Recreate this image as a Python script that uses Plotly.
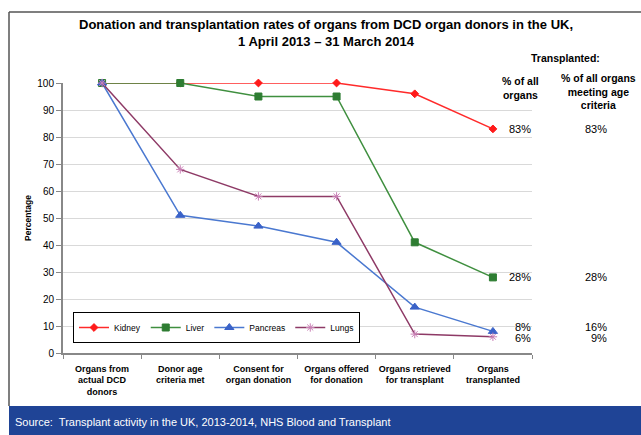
import plotly.graph_objects as go

categories = ["Organs from<br>actual DCD<br>donors", "Donor age<br>criteria met",
              "Consent for<br>organ donation", "Organs offered<br>for donation",
              "Organs retrieved<br>for transplant", "Organs<br>transplanted"]
kidney = [100, 100, 100, 100, 96, 83]
liver = [100, 100, 95, 95, 41, 28]
pancreas = [100, 51, 47, 41, 17, 8]
lungs = [100, 68, 58, 58, 7, 6]
y_ticks = [0, 10, 20, 30, 40, 50, 60, 70, 80, 90, 100]
pct_all = ["83%", "28%", "8%", "6%"]
pct_age = ["83%", "28%", "16%", "9%"]
label_y = [83, 28, 9.6, 5.6]

W, H = 641, 435
L, R, T, B = 63, 532, 83, 353
def px(x):
    return (x - L) / (R - L)
def py(y):
    return (B - y) / (B - T)

FONT = "Liberation Sans, Arial, sans-serif"

series = [
    ("Kidney", kidney, "#FF2A2A", "#FF1A1A", "diamond", 6),
    ("Liver", liver, "#3F8F3F", "#2E7D32", "square", 7),
    ("Pancreas", pancreas, "#4A78D0", "#3A62C8", "triangle-up", 8),
    ("Lungs", lungs, "#8E3A66", "#C97FB5", "asterisk-open", 7),
]

fig = go.Figure()
for name, vals, lc, mc, sym, sz in series:
    fig.add_trace(go.Scatter(
        x=categories, y=vals, name=name, mode="lines+markers",
        line=dict(color=lc, width=1.5),
        marker=dict(symbol=sym, size=sz, color=mc, line=dict(color=mc, width=1)),
        cliponaxis=False,
    ))

shapes = [
    dict(type="rect", xref="paper", yref="paper", x0=px(9), x1=px(645), y0=py(406), y1=py(440),
         fillcolor="#1F4496", line=dict(width=0), layer="below"),
    dict(type="line", xref="paper", yref="paper", x0=px(9), x1=px(645), y0=py(12), y1=py(12),
         line=dict(color="#555555", width=1.5)),
    dict(type="line", xref="paper", yref="paper", x0=px(9), x1=px(9), y0=py(12), y1=py(406),
         line=dict(color="#555555", width=1.5)),
]

def ann(x, y, text, size, bold=True, xanchor="center", color="#000", yref="paper"):
    return dict(xref="paper", yref=yref, x=x, y=y, showarrow=False, xanchor=xanchor,
                yanchor="middle", align="center", text=f"<b>{text}</b>" if bold else text,
                font=dict(family=FONT, size=size, color=color))

annotations = [
    ann(px(326), py(33), "Donation and transplantation rates of organs from DCD organ donors in the UK,<br>1 April 2013 \u2013 31 March 2014", 13),
    ann(px(565), py(58), "Transplanted:", 10.5),
    ann(px(520), py(88), "% of all<br>organs", 10.5),
    ann(px(598), py(91), "% of all organs<br>meeting age<br>criteria", 10.5),
    ann(px(13), py(422), "Source:  Transplant activity in the UK, 2013-2014, NHS Blood and Transplant",
        11, bold=False, xanchor="left", color="#FFFFFF"),
]
for a, b, yv in zip(pct_all, pct_age, label_y):
    annotations.append(ann(px(533), yv, a, 11, bold=False, xanchor="right", yref="y"))
    annotations.append(ann(px(609), yv, b, 11, bold=False, xanchor="right", yref="y"))

fig.update_layout(
    width=W, height=H,
    margin=dict(l=L, r=W - R, t=T, b=H - B, pad=0, autoexpand=False),
    paper_bgcolor="white", plot_bgcolor="white",
    font=dict(family=FONT, color="#000"),
    showlegend=True,
    legend=dict(orientation="h", x=px(73), y=py(343), xanchor="left", yanchor="bottom",
                bordercolor="#000", borderwidth=1, bgcolor="white",
                font=dict(family=FONT, size=8.5, color="#000"), itemwidth=30,
                tracegroupgap=0),
    shapes=shapes, annotations=annotations,
)
fig.update_xaxes(type="category", tickson="boundaries", ticks="outside", ticklen=4,
                 tickcolor="#888", showline=True, linecolor="#888", linewidth=1.5,
                 showgrid=False, tickfont=dict(family=FONT, size=9, color="#000"),
                 ticklabelstandoff=6, tickangle=0,
                 tickprefix="<b>", ticksuffix="</b>", range=[-0.5, 5.5], automargin=False)
fig.update_yaxes(range=[0, 100], tickvals=y_ticks, ticks="outside", ticklen=5, tickcolor="#888",
                 showline=True, linecolor="#888", linewidth=2, gridcolor="#D9D9D9", gridwidth=1,
                 zeroline=False, tickfont=dict(family=FONT, size=10, color="#000"),
                 tickprefix="<b>", ticksuffix="</b>", automargin=False,
                 title=dict(text="<b>Percentage</b>", font=dict(family=FONT, size=8.5, color="#000"),
                            standoff=4))

fig.write_html("out.html", config={"displayModeBar": False},
               post_script="document.body.style.margin='0px';document.body.style.overflow='hidden';")
